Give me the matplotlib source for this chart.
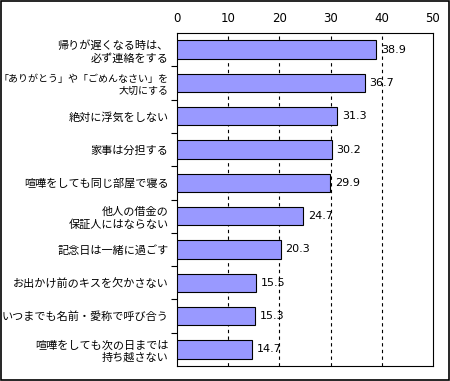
import matplotlib
matplotlib.use("Agg")
import matplotlib.pyplot as plt
from matplotlib.patches import Rectangle

plt.rcParams['font.family'] = ['Noto Sans CJK JP', 'DejaVu Sans']

labels = [
    "帰りが遅くなる時は、\n必ず連絡をする",
    "「ありがとう」や「ごめんなさい」を\n大切にする",
    "絶対に浮気をしない",
    "家事は分担する",
    "喧嘩をしても同じ部屋で寝る",
    "他人の借金の\n保証人にはならない",
    "記念日は一緒に過ごす",
    "お出かけ前のキスを欠かさない",
    "いつまでも名前・愛称で呼び合う",
    "喧嘩をしても次の日までは\n持ち越さない",
]
values = [38.9, 36.7, 31.3, 30.2, 29.9, 24.7, 20.3, 15.5, 15.3, 14.7]
xticks = [0, 10, 20, 30, 40, 50]

fig = plt.figure(figsize=(4.5, 3.81), dpi=100)
ax = fig.add_axes([177 / 450, 1 - 366 / 381, 256 / 450, 333 / 381])

ypos = list(range(len(values)))
ax.barh(ypos, values, height=0.55, color="#9999FF", edgecolor="black", linewidth=0.8, zorder=3)
for y, v in zip(ypos, values):
    ax.text(v + 0.9, y, f"{v:.1f}", va="center", ha="left", fontsize=8,
            family="DejaVu Sans")

ax.set_xlim(0, 50)
ax.set_ylim(len(values) - 0.5, -0.5)
ax.set_xticks(xticks)
ax.xaxis.tick_top()
ax.tick_params(axis="x", length=0, pad=6, labelsize=8.5)
for lbl in ax.get_xticklabels():
    lbl.set_family("DejaVu Sans")
for x in xticks[1:-1]:
    ax.axvline(x, color="black", linestyle=(0, (3, 3)), linewidth=0.8, zorder=1)

# short ticks on the category boundaries
ax.set_yticks([i + 0.5 for i in range(len(values) - 1)])
ax.set_yticklabels([])
ax.tick_params(axis="y", length=4, direction="out", width=0.8)
ax.set_yticks(ypos, minor=True)
ax.set_yticklabels(labels, minor=True, fontsize=8, ha="right", linespacing=1.3)
ax.tick_params(axis="y", which="minor", length=0, pad=6)
ax.get_yticklabels(minor=True)[1].set_fontsize(7.2)

for s in ax.spines.values():
    s.set_linewidth(0.8)

fig.patches.append(Rectangle((0.002, 0.002), 0.996, 0.996, transform=fig.transFigure,
                             fill=False, edgecolor="black", linewidth=1.2))

fig.savefig("out.png", dpi=100)
